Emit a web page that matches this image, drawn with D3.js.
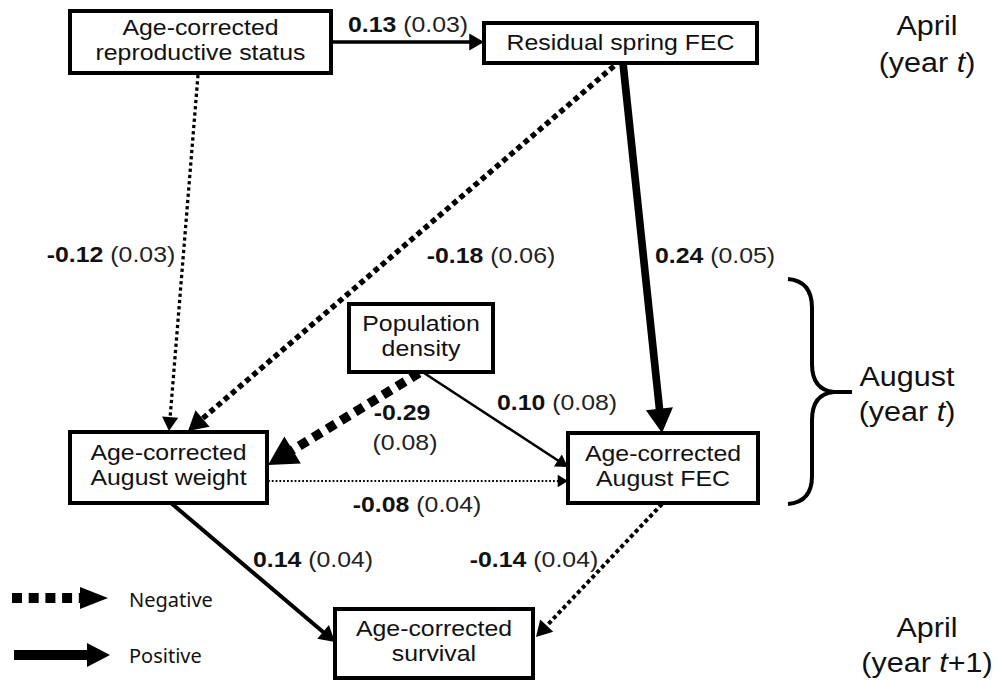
<!DOCTYPE html>
<html>
<head>
<meta charset="utf-8">
<script src="https://cdn.jsdelivr.net/npm/d3@7"></script>
<style>
  html, body { margin: 0; padding: 0; background: #fff; }
  svg { display: block; }
</style>
</head>
<body>
<div id="chart"></div>
<script>
// Variables (boxes) of the path model
const nodes = [
    { id: "repro",    lines: ["Age-corrected", "reproductive status"] },
    { id: "spring",   lines: ["Residual spring FEC"] },
    { id: "density",  lines: ["Population", "density"] },
    { id: "weight",   lines: ["Age-corrected", "August weight"] },
    { id: "augfec",   lines: ["Age-corrected", "August FEC"] },
    { id: "survival", lines: ["Age-corrected", "survival"] }
];

// Path coefficients (estimate, standard error)
const paths = [
    { source: "repro",   target: "spring",   coef: 0.13,  se: 0.03 },
    { source: "repro",   target: "weight",   coef: -0.12, se: 0.03 },
    { source: "spring",  target: "weight",   coef: -0.18, se: 0.06 },
    { source: "spring",  target: "augfec",   coef: 0.24,  se: 0.05 },
    { source: "density", target: "weight",   coef: -0.29, se: 0.08 },
    { source: "density", target: "augfec",   coef: 0.10,  se: 0.08 },
    { source: "weight",  target: "augfec",   coef: -0.08, se: 0.04 },
    { source: "weight",  target: "survival", coef: 0.14,  se: 0.04 },
    { source: "augfec",  target: "survival", coef: -0.14, se: 0.04 }
];

// Time labels on the right
const seasons = [
    { month: "April",  year: "t" },
    { month: "August", year: "t" },
    { month: "April",  year: "t+1" }
];

const legendItems = ["Negative", "Positive"];

// ---- layout (pixels) ----
const width = 999, height = 681;
const boxes = {
    repro:    [70, 11, 331, 73],
    spring:   [484, 23, 757, 63],
    density:  [349, 304, 493, 372],
    weight:   [70, 432, 267, 503],
    augfec:   [568, 433, 758, 503],
    survival: [335, 609, 533, 678]
};
const edgeLayout = {
    "repro-spring":    { from: [331, 42],  to: [484, 42],  label: [408, 32],  split: false },
    "repro-weight":    { from: [198, 75],  to: [169, 431], label: [111, 262], split: false },
    "spring-weight":   { from: [614, 66],  to: [188, 431], label: [491, 263], split: false },
    "spring-augfec":   { from: [623, 63],  to: [662, 433], label: [715, 263], split: false },
    "density-weight":  { from: [419, 373], to: [268, 465], label: [402, 420], split: true },
    "density-augfec":  { from: [424, 373], to: [568, 467], label: [557, 410], split: false },
    "weight-augfec":   { from: [268, 481], to: [568, 481], label: [417, 512], split: false },
    "weight-survival": { from: [171, 503], to: [335, 642], label: [313, 567], split: false },
    "augfec-survival": { from: [662, 504], to: [536, 637], label: [534, 567], split: false }
};
const seasonLayout = [[927, 35, 72], [907, 386, 421], [927, 637, 672]];

const SX = 1.13;          // horizontal stretch of the original figure's lettering
const FONT = "'Liberation Sans', Arial, sans-serif";

const svg = d3.select("#chart")
    .append("svg")
    .attr("width", width)
    .attr("height", height)
    .style("background", "#fff");

// Line thickness follows the size of the effect
const widthScale = d3.scaleLinear().domain([0.08, 0.29]).range([1.8, 9.5]);

function arrow(g, x1, y1, x2, y2, w, dash, headLen, headHalf) {
    const dx = x2 - x1, dy = y2 - y1, len = Math.hypot(dx, dy);
    const ux = dx / len, uy = dy / len;
    const bx = x2 - ux * headLen, by = y2 - uy * headLen;
    g.append("line")
        .attr("x1", x1).attr("y1", y1)
        .attr("x2", x2 - ux * headLen * 0.8).attr("y2", y2 - uy * headLen * 0.8)
        .attr("stroke", "#000")
        .attr("stroke-width", w)
        .attr("stroke-dasharray", dash);
    g.append("path")
        .attr("d", d3.line()([
            [x2, y2],
            [bx - uy * headHalf, by + ux * headHalf],
            [bx + uy * headHalf, by - ux * headHalf]
        ]) + "Z")
        .attr("fill", "#000");
}

function dashFor(w) {
    const gap = w < 2 ? 2 : Math.max(3, w * 0.72);
    return `${w},${gap}`;
}

// stretched text helper
function stext(g, x, y, size) {
    return g.append("text")
        .attr("transform", `translate(${x},${y}) scale(${SX},1)`)
        .attr("text-anchor", "middle")
        .style("font-family", FONT)
        .style("font-size", size + "px")
        .style("fill", "#111");
}

// ---- paths ----
const edgeG = svg.append("g");
paths.forEach(p => {
    const L = edgeLayout[p.source + "-" + p.target];
    const w = widthScale(Math.abs(p.coef));
    arrow(edgeG, L.from[0], L.from[1], L.to[0], L.to[1], w,
        p.coef < 0 ? dashFor(w) : null, 6 + 2.4 * w, 4 + 1.25 * w);
});

// ---- boxes ----
const boxG = svg.append("g")
    .selectAll("g")
    .data(nodes)
    .join("g");

boxG.append("rect")
    .attr("x", d => boxes[d.id][0])
    .attr("y", d => boxes[d.id][1])
    .attr("width", d => boxes[d.id][2] - boxes[d.id][0])
    .attr("height", d => boxes[d.id][3] - boxes[d.id][1])
    .attr("fill", "#fff")
    .attr("stroke", "#000")
    .attr("stroke-width", 4);

boxG.each(function(d) {
    const b = boxes[d.id];
    const cx = (b[0] + b[2]) / 2, cy = (b[1] + b[3]) / 2;
    const lh = 25, fs = 22;
    const y0 = cy - (d.lines.length - 1) * lh / 2 + fs * 0.34 - (d.lines.length > 1 ? 2 : 0);
    d.lines.forEach((line, i) => {
        stext(d3.select(this), cx, y0 + i * lh, fs).text(line);
    });
});

// ---- coefficient labels ----
const fmt = v => (v < 0 ? "-" : "") + d3.format(".2f")(Math.abs(v));
paths.forEach(p => {
    const L = edgeLayout[p.source + "-" + p.target];
    if (L.split) {
        stext(svg, L.label[0], L.label[1], 22).style("font-weight", "bold").text(fmt(p.coef));
        stext(svg, L.label[0] + 3, L.label[1] + 30, 22).style("fill", "#222").text(`(${fmt(p.se)})`);
    } else {
        const t = stext(svg, L.label[0], L.label[1], 22);
        t.append("tspan").style("font-weight", "bold").text(fmt(p.coef));
        t.append("tspan").style("fill", "#222").text(` (${fmt(p.se)})`);
    }
});

// ---- season labels ----
seasons.forEach((s, i) => {
    const [x, y1, y2] = seasonLayout[i];
    stext(svg, x, y1, 27).text(s.month);
    const t = stext(svg, x, y2, 27);
    t.append("tspan").text("(year ");
    t.append("tspan").style("font-style", "italic").text("t");
    if (s.year.length > 1) t.append("tspan").text(s.year.slice(1));
    t.append("tspan").text(")");
});

// curly brace grouping the August variables
svg.append("path")
    .attr("d", "M788,279 Q812,281 812,308 L812,364 Q812,390 834,392 L852,392 M834,392 Q812,394 812,420 L812,476 Q812,502 788,504")
    .attr("fill", "none")
    .attr("stroke", "#000")
    .attr("stroke-width", 4);

// ---- legend ----
const legend = svg.append("g");
arrow(legend, 12, 598, 108, 598, 10, "10,6.7", 28, 11);
arrow(legend, 14, 655, 110, 655, 10, null, 23, 12);
legend.selectAll("text")
    .data(legendItems)
    .join("text")
    .attr("x", 129)
    .attr("y", (d, i) => 607 + i * 56)
    .style("font-family", "'Noto Sans', sans-serif")
    .style("font-size", "20px")
    .style("fill", "#111")
    .text(d => d);
</script>
</body>
</html>
